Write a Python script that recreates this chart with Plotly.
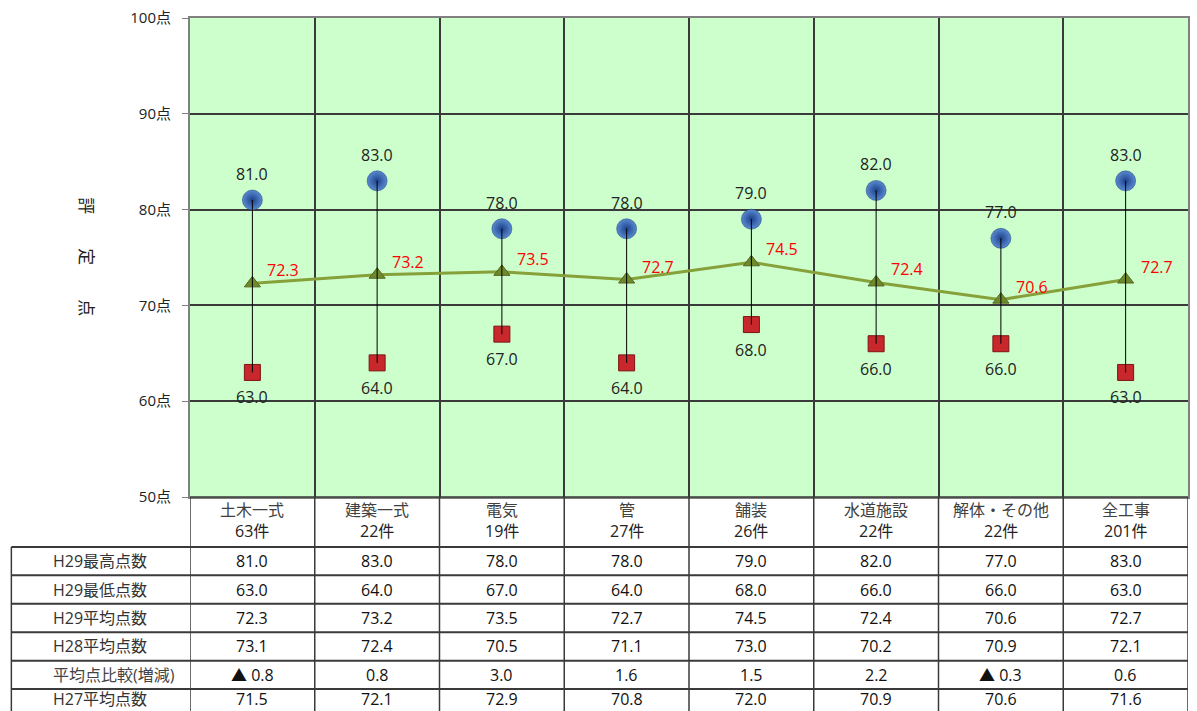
import plotly.graph_objects as go

# ---------------- data ----------------
categories = ["土木一式", "建築一式", "電気", "管", "舗装", "水道施設", "解体・その他", "全工事"]
counts = [63, 22, 19, 27, 26, 22, 22, 201]
h29_max = [81.0, 83.0, 78.0, 78.0, 79.0, 82.0, 77.0, 83.0]
h29_min = [63.0, 64.0, 67.0, 64.0, 68.0, 66.0, 66.0, 63.0]
h29_avg = [72.3, 73.2, 73.5, 72.7, 74.5, 72.4, 70.6, 72.7]
h28_avg = [73.1, 72.4, 70.5, 71.1, 73.0, 70.2, 70.9, 72.1]
avg_diff = [-0.8, 0.8, 3.0, 1.6, 1.5, 2.2, -0.3, 0.6]
h27_avg = [71.5, 72.1, 72.9, 70.8, 72.0, 70.9, 70.6, 71.6]
row_labels = ["H29最高点数", "H29最低点数", "H29平均点数", "H28平均点数", "平均点比較(増減)", "H27平均点数"]
y_ticks = [50, 60, 70, 80, 90, 100]
y_tick_text = [f"{v}点" for v in y_ticks]

# ---------------- style ----------------
W, H = 1197, 711
ML, MR, MT, MB = 190, 7, 17, 214
PW, PH = W - ML - MR, H - MT - MB
FONT = "Open Sans, Noto Sans CJK JP, sans-serif"
GRID = "#3a3a3a"
BLUE, BLUE_EDGE = "#5a8ad0", "#1c418a"
RED, RED_EDGE = "#c8282c", "#7d1416"
OLIVE, OLIVE_LINE = "#6f8a2c", "#86a03a"
FS = 16

def py(p):  # pixel y -> paper y
    return ((H - MB) - p) / PH

def px(p):  # pixel x -> paper x
    return (p - ML) / PW

n = len(categories)
xs = list(range(n))

fig = go.Figure()

# average line
fig.add_trace(go.Scatter(x=xs, y=h29_avg, mode="lines+markers",
                         line=dict(color=OLIVE_LINE, width=3),
                         marker=dict(symbol="triangle-up", size=14, color=OLIVE,
                                     line=dict(color="#55681f", width=1)),
                         hoverinfo="skip", showlegend=False))
# max points
fig.add_trace(go.Scatter(x=xs, y=h29_max, mode="markers",
                         marker=dict(symbol="circle", size=20, color=BLUE,
                                     gradient=dict(type="radial", color=BLUE_EDGE),
                                     line=dict(color="#183a78", width=0.5)),
                         hoverinfo="skip", showlegend=False))
# min points
fig.add_trace(go.Scatter(x=xs, y=h29_min, mode="markers",
                         marker=dict(symbol="square", size=16, color=RED,
                                     line=dict(color=RED_EDGE, width=1)),
                         hoverinfo="skip", showlegend=False))
# hi-lo lines
hx, hy = [], []
for i in xs:
    hx += [i, i, None]
    hy += [h29_max[i], h29_min[i], None]
fig.add_trace(go.Scatter(x=hx, y=hy, mode="lines", line=dict(color="black", width=1),
                         hoverinfo="skip", showlegend=False))

# legend icons on an overlay pixel axis
fig.add_trace(go.Scatter(x=[31], y=[561.5], xaxis="x2", yaxis="y2", mode="markers",
                         marker=dict(symbol="circle", size=13, color=BLUE,
                                     gradient=dict(type="radial", color=BLUE_EDGE)),
                         cliponaxis=False, hoverinfo="skip", showlegend=False))
fig.add_trace(go.Scatter(x=[31], y=[590], xaxis="x2", yaxis="y2", mode="markers",
                         marker=dict(symbol="square", size=12, color=RED,
                                     line=dict(color=RED_EDGE, width=1)),
                         cliponaxis=False, hoverinfo="skip", showlegend=False))
fig.add_trace(go.Scatter(x=[15, 31, 48], y=[618.5, 618.5, 618.5], xaxis="x2", yaxis="y2",
                         mode="lines+markers", line=dict(color=OLIVE_LINE, width=3),
                         marker=dict(symbol="triangle-up", size=[0, 13, 0], color=OLIVE),
                         cliponaxis=False, hoverinfo="skip", showlegend=False))

ann = []
# data labels
for i in xs:
    ann.append(dict(x=i, y=h29_max[i], text=f"{h29_max[i]:.1f}", showarrow=False, yshift=26,
                    font=dict(size=FS, color="#222222", family=FONT)))
    ann.append(dict(x=i, y=h29_min[i], text=f"{h29_min[i]:.1f}", showarrow=False, yshift=-25,
                    font=dict(size=FS, color="#222222", family=FONT)))
    ann.append(dict(x=i, y=h29_avg[i], text=f"{h29_avg[i]:.1f}", showarrow=False, xshift=31, yshift=13,
                    font=dict(size=FS, color="#ff0000", family=FONT)))

# y title
ann.append(dict(xref="paper", yref="paper", x=px(86), y=py(256), xanchor="center", yanchor="middle",
                text="評　　定　　点", textangle=90, showarrow=False,
                font=dict(size=17, color="#222222", family=FONT)))

# table
row_bounds = [547, 575.5, 604, 632.5, 661, 689.5]
row_centers = [(row_bounds[k] + row_bounds[k + 1]) / 2 for k in range(5)] + [699]

def fmt_diff(v):
    return f"▲ {abs(v):.1f}" if v < 0 else f"{v:.1f}"

table_rows = [
    [f"{v:.1f}" for v in h29_max],
    [f"{v:.1f}" for v in h29_min],
    [f"{v:.1f}" for v in h29_avg],
    [f"{v:.1f}" for v in h28_avg],
    [fmt_diff(v) for v in avg_diff],
    [f"{v:.1f}" for v in h27_avg],
]
for i in xs:
    ann.append(dict(x=i, xref="x", yref="paper", y=py(510), xanchor="center", yanchor="middle",
                    text=categories[i], showarrow=False,
                    font=dict(size=FS, color="#404040", family=FONT)))
    ann.append(dict(x=i, xref="x", yref="paper", y=py(531), xanchor="center", yanchor="middle",
                    text=f"{counts[i]}件", showarrow=False,
                    font=dict(size=FS, color="#222222", family=FONT)))
    for r, row in enumerate(table_rows):
        ann.append(dict(x=i, xref="x", yref="paper", y=py(row_centers[r]), xanchor="center",
                        yanchor="middle", text=row[i], showarrow=False,
                        font=dict(size=FS, color="#111111", family=FONT)))
for r, lab in enumerate(row_labels):
    ann.append(dict(xref="paper", yref="paper", x=px(51), y=py(row_centers[r]), text=lab,
                    xanchor="left", yanchor="middle", showarrow=False,
                    font=dict(size=FS, color="#333333" if r != 4 else "#444444", family=FONT)))

shapes = []
# vertical column lines through table
for k in range(n + 1):
    shapes.append(dict(type="line", xref="x", yref="paper", x0=k - 0.5, x1=k - 0.5,
                       y0=py(497), y1=py(H + 5), line=dict(color=GRID, width=1.5)))
# left table border
shapes.append(dict(type="line", xref="paper", yref="paper", x0=px(11), x1=px(11),
                   y0=py(547), y1=py(H + 5), line=dict(color=GRID, width=1.5)))
# horizontal table lines
shapes.append(dict(type="line", xref="paper", yref="paper", x0=0, x1=1,
                   y0=py(497), y1=py(497), line=dict(color=GRID, width=1.5)))
for b in row_bounds:
    shapes.append(dict(type="line", xref="paper", yref="paper", x0=px(11), x1=1,
                       y0=py(b), y1=py(b), line=dict(color=GRID, width=2)))

fig.update_layout(
    width=W, height=H,
    margin=dict(l=ML, r=MR, t=MT, b=MB),
    paper_bgcolor="white", plot_bgcolor="#ccffcc",
    font=dict(family=FONT, size=14, color="#222222"),
    xaxis=dict(range=[-0.5, n - 0.5], tickvals=[k + 0.5 for k in range(n - 1)],
               showticklabels=False, ticks="", showgrid=True, gridcolor=GRID, gridwidth=1.5,
               zeroline=False, showline=True, linecolor="#808080", linewidth=2, mirror=True,
               fixedrange=True),
    yaxis=dict(range=[50, 100], tickvals=y_ticks, ticktext=y_tick_text,
               ticks="outside", ticklen=6, tickcolor="#808080", ticklabelstandoff=8,
               tickfont=dict(size=15, color="#222222", family=FONT),
               showgrid=True, gridcolor=GRID, gridwidth=1.5, zeroline=False,
               showline=True, linecolor="#808080", linewidth=2, mirror=True, fixedrange=True),
    xaxis2=dict(range=[ML, ML + PW], overlaying="x", visible=False, fixedrange=True),
    yaxis2=dict(range=[H - MB, MT], overlaying="y", visible=False, fixedrange=True),
    annotations=ann, shapes=shapes, showlegend=False,
)

fig.write_html("out.html")
